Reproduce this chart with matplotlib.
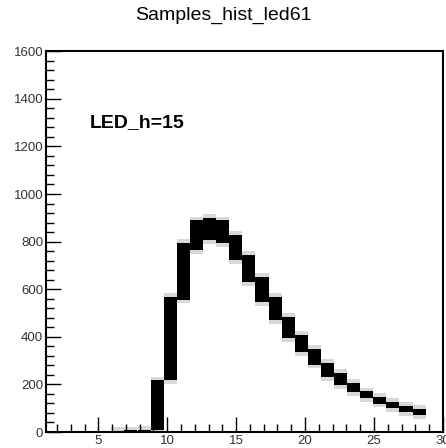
import matplotlib.pyplot as plt
from matplotlib.ticker import MultipleLocator

plt.rcParams['font.family'] = ['Liberation Sans', 'DejaVu Sans']

# left edge of each sample bin (bins are ~0.96 wide)
bin_left = [5.9, 6.85, 7.85, 8.8, 9.75, 10.7, 11.65, 12.6, 13.55, 14.5, 15.45,
            16.4, 17.35, 18.3, 19.25, 20.2, 21.15, 22.1, 23.05, 24.0, 24.95,
            25.9, 26.85, 27.8]
# spread of the entries in each bin (low / high)
low = [0, 0, 0, 8, 218, 555, 765, 806, 794, 722, 630, 546, 470, 395, 336,
       282, 231, 197, 168, 143, 118, 101, 84, 71]
high = [6, 8, 10, 218, 567, 794, 890, 900, 890, 828, 744, 651, 567, 483,
        408, 349, 290, 248, 206, 172, 147, 126, 109, 97]
bin_width = 0.95

fig = plt.figure(figsize=(4.46, 4.48), dpi=100)
ax = fig.add_axes([0.103, 0.0357, 0.890, 0.850])

heights = [h - l for h, l in zip(high, low)]
# light halo around the dense band
ax.bar(bin_left, [h + 30 for h in heights], bottom=[l - 15 for l in low],
       width=bin_width, align='edge', color='#d8d8d8', linewidth=0)
ax.bar(bin_left, heights, bottom=low, width=bin_width, align='edge',
       color='black', linewidth=0)

ax.set_xlim(1.2, 30)
ax.set_ylim(0, 1600)
ax.xaxis.set_major_locator(MultipleLocator(5))
ax.xaxis.set_minor_locator(MultipleLocator(1))
ax.yaxis.set_major_locator(MultipleLocator(200))
ax.yaxis.set_minor_locator(MultipleLocator(40))
ax.tick_params(which='both', direction='in', top=False, right=False,
               labelsize=9.5, labelcolor='#333333', pad=2)
ax.tick_params(which='major', length=11, width=1)
ax.tick_params(which='minor', length=6, width=1)
for s in ax.spines.values():
    s.set_linewidth(1.5)

ax.text(4.35, 1300, 'LED_h=15', fontsize=14, fontweight='bold', va='center')
fig.text(0.5, 0.965, 'Samples_hist_led61', fontsize=14, ha='center', va='center')

plt.savefig('out.png', dpi=100)
